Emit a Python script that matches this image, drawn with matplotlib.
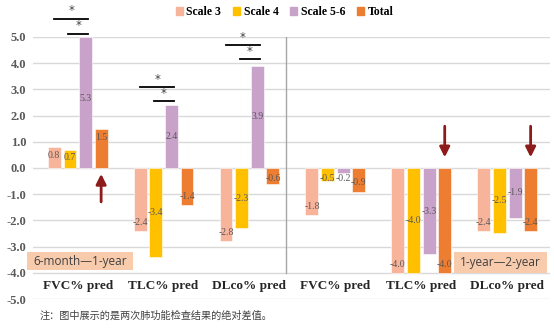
import numpy as np
import matplotlib.pyplot as plt
from matplotlib.patches import Patch, Rectangle

# data
categories = ['FVC% pred', 'TLC% pred', 'DLco% pred', 'FVC% pred', 'TLC% pred', 'DLco% pred']
series = ['Scale 3', 'Scale 4', 'Scale 5-6', 'Total']
scale3 = [0.8, -2.4, -2.8, -1.8, -4.0, -2.4]
scale4 = [0.7, -3.4, -2.3, -0.5, -4.0, -2.5]
scale56 = [5.3, 2.4, 3.9, -0.2, -3.3, -1.9]
total = [1.5, -1.4, -0.6, -0.9, -4.0, -2.4]
periods = ['6-month\u20141-year', '1-year\u20142-year']
note = '注：图中展示的是两次肺功能检查结果的绝对差值。'

colors = ['#F8B39B', '#FFC000', '#C9A2C9', '#ED7D31']
label_mode = ['end', 'center', 'center', 'end']
serif = 'Liberation Serif'

fig = plt.figure(figsize=(5.54, 3.28), dpi=100)
ax = fig.add_axes([0.0596, 0.0884, 0.9334, 0.799])
ax.set_xlim(-0.52, 5.5)
ax.set_ylim(-5, 5)

x = np.arange(len(categories))
offsets = [-0.273, -0.09, 0.093, 0.273]
for vals, off, c, mode in zip([scale3, scale4, scale56, total], offsets, colors, label_mode):
    vals = np.array(vals)
    shown = np.clip(vals, -5, 5)
    ax.bar(x + off, shown, width=0.15, color=c, edgecolor='white', linewidth=0.4, zorder=2)
    for xi, v, s in zip(x + off, vals, shown):
        sg = 1 if v >= 0 else -1
        if mode == 'end':
            ly = s - sg * 0.33
            if abs(ly) < 0.42:
                ly = sg * 0.42
        else:
            ly = sg * max(abs(v) / 2, 0.4)
        ax.text(xi, ly, f'{v:.1f}', ha='center', va='center', fontsize=7,
                family=serif, color='#595959', zorder=3)

# grid
for yv in range(-5, 6):
    ax.axhline(yv, color='#D9D9D9', lw=1, zorder=1)
ax.plot([2.43, 2.43], [-4, 5], color='#A6A6A6', lw=1, zorder=1)

for s in ax.spines.values():
    s.set_visible(False)
ax.set_xticks([])
ax.set_yticks(range(-5, 6))
ax.set_yticklabels([f'{v:.1f}' for v in range(-5, 6)], family=serif,
                   fontweight='bold', fontsize=9, color='#595959')
ax.tick_params(axis='y', length=0, pad=5)

for xi, cat in zip(x, categories):
    ax.text(xi, -4.5, cat, ha='center', va='center', family=serif,
            fontweight='bold', fontsize=9.5, color='#262626')

# significance marks
sig = [(0, 5.69, 5.12), (1, 3.09, 2.56), (2, 4.69, 4.16)]
for xi, yu, yl in sig:
    ax.plot([xi - 0.27, xi + 0.12], [yu, yu], color='black', lw=1.3, clip_on=False)
    ax.text(xi - 0.075, yu + 0.3, '*', ha='center', va='center', fontsize=8.5,
            color='#404040', clip_on=False)
    ax.plot([xi - 0.11, xi + 0.12], [yl, yl], color='black', lw=1.3, clip_on=False)
    ax.text(xi + 0.005, yl + 0.3, '*', ha='center', va='center', fontsize=8.5,
            color='#404040', clip_on=False)

# arrows
arrow_kw = dict(arrowstyle='-|>,head_width=0.3,head_length=0.6', color='#8E1B1B', lw=2)
ax.annotate('', xy=(0.273, -0.12), xytext=(0.273, -1.4), arrowprops=arrow_kw)
for xi in [4.273, 5.273]:
    ax.annotate('', xy=(xi, 0.3), xytext=(xi, 1.7), arrowprops=arrow_kw)

# period boxes
boxes = [(-0.59, 0.64, -3.9, -3.2), (4.38, 5.465, -4.0, -3.2)]
for (x0, x1, y0, y1), txt in zip(boxes, periods):
    ax.add_patch(Rectangle((x0, y0), x1 - x0, y1 - y0, facecolor='#F8CBAD',
                           edgecolor='none', zorder=4, clip_on=False))
    ax.text((x0 + x1) / 2, (y0 + y1) / 2, txt, ha='center', va='center',
            fontsize=8.5, family='Open Sans', color='#404040', zorder=5)

handles = [Patch(color=c, label=s) for c, s in zip(colors, series)]
fig.legend(handles=handles, loc='center', bbox_to_anchor=(0.514, 0.963), ncol=4,
           frameon=False, prop={'family': serif, 'weight': 'bold', 'size': 8.5},
           handlelength=0.6, handleheight=0.6, handletextpad=0.3, columnspacing=1.0)

fig.text(0.072, 0.037, note, family=['Noto Sans CJK SC', 'DejaVu Sans'],
         fontsize=7.3, color='#404040', va='center')

fig.savefig('out.png', dpi=100)
